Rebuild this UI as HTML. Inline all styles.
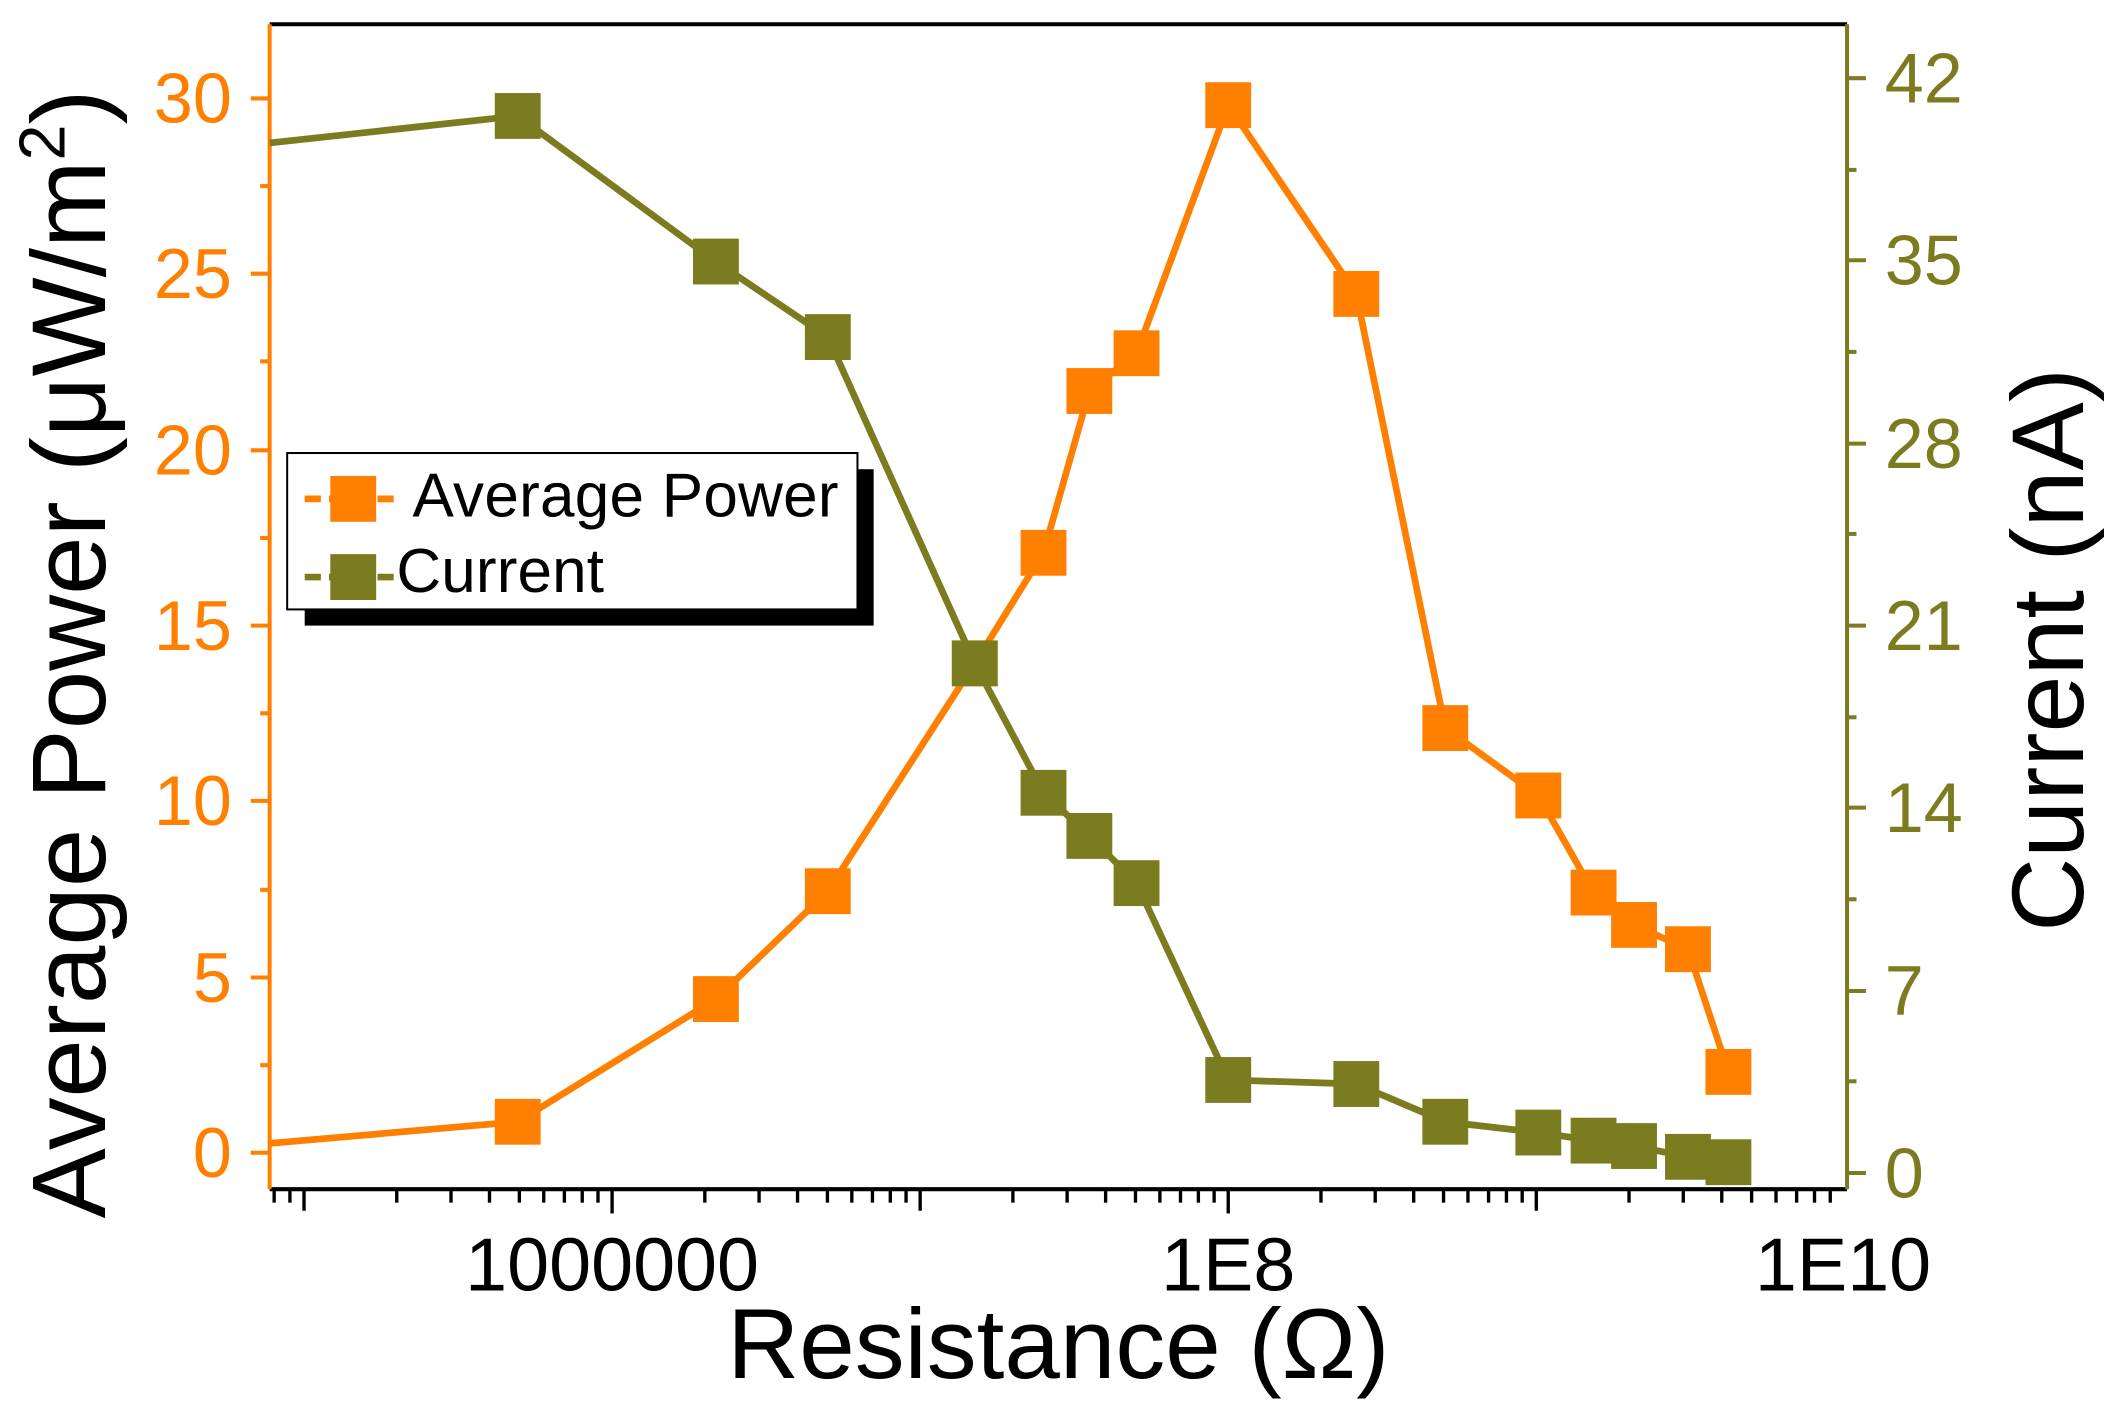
<!DOCTYPE html>
<html><head><meta charset="utf-8"><style>html,body{margin:0;padding:0;background:#fff}svg{display:block}</style></head>
<body>
<svg width="2114" height="1413" viewBox="0 0 1568 1048" preserveAspectRatio="none" xmlns="http://www.w3.org/2000/svg" font-family="Liberation Sans, sans-serif">
<rect width="1568" height="1048" fill="#fff"/>
<line x1="200" y1="18" x2="1370" y2="18" stroke="#000" stroke-width="3"/>
<line x1="200" y1="882" x2="1370" y2="882" stroke="#000" stroke-width="3"/>
<line x1="200" y1="18" x2="200" y2="882" stroke="#FF7F00" stroke-width="3"/>
<line x1="1370" y1="18" x2="1370" y2="882" stroke="#7B7B1F" stroke-width="3"/>
<g stroke="#000" stroke-width="2.5" id="xt"></g>
<g stroke="#FF7F00" stroke-width="3">
<line x1="186" y1="855" x2="200" y2="855"/><line x1="186" y1="725" x2="200" y2="725"/><line x1="186" y1="594" x2="200" y2="594"/><line x1="186" y1="464" x2="200" y2="464"/><line x1="186" y1="334" x2="200" y2="334"/><line x1="186" y1="203" x2="200" y2="203"/><line x1="186" y1="73" x2="200" y2="73"/>
<line x1="193" y1="790" x2="200" y2="790"/><line x1="193" y1="660" x2="200" y2="660"/><line x1="193" y1="529" x2="200" y2="529"/><line x1="193" y1="399" x2="200" y2="399"/><line x1="193" y1="268" x2="200" y2="268"/><line x1="193" y1="138" x2="200" y2="138"/>
</g>
<g fill="#FF7F00" font-size="52" text-anchor="end">
<text x="172" y="873">0</text><text x="172" y="743">5</text><text x="172" y="612">10</text><text x="172" y="482">15</text><text x="172" y="352">20</text><text x="172" y="221">25</text><text x="172" y="91">30</text>
</g>
<g stroke="#7B7B1F" stroke-width="3">
<line x1="1370" y1="870" x2="1384" y2="870"/><line x1="1370" y1="735" x2="1384" y2="735"/><line x1="1370" y1="599" x2="1384" y2="599"/><line x1="1370" y1="464" x2="1384" y2="464"/><line x1="1370" y1="329" x2="1384" y2="329"/><line x1="1370" y1="193" x2="1384" y2="193"/><line x1="1370" y1="58" x2="1384" y2="58"/>
<line x1="1370" y1="802" x2="1377" y2="802"/><line x1="1370" y1="667" x2="1377" y2="667"/><line x1="1370" y1="532" x2="1377" y2="532"/><line x1="1370" y1="396" x2="1377" y2="396"/><line x1="1370" y1="261" x2="1377" y2="261"/><line x1="1370" y1="126" x2="1377" y2="126"/>
</g>
<g fill="#7B7B1F" font-size="52">
<text x="1398" y="888">0</text><text x="1398" y="753">7</text><text x="1398" y="617">14</text><text x="1398" y="482">21</text><text x="1398" y="347">28</text><text x="1398" y="211">35</text><text x="1398" y="76">42</text>
</g>
<g font-size="56" text-anchor="middle" fill="#000">
<text x="454" y="957">1000000</text><text x="911" y="957">1E8</text><text x="1367" y="957">1E10</text>
</g>
<text x="785" y="1022" font-size="74" text-anchor="middle">Resistance (Ω)</text>
<text transform="translate(78,485) rotate(-90)" font-size="78" text-anchor="middle">Average Power (μW/m<tspan font-size="48" dy="-30">2</tspan><tspan dy="30">)</tspan></text>
<text transform="translate(1545,482) rotate(-90)" font-size="76" text-anchor="middle">Current (nA)</text>
<polyline fill="none" stroke="#FF7F00" stroke-width="5" points="200,848 384,832 531,741 614,661 723,492 774,410 808,290 843,262 911,78 1006,218 1072,540 1141,590 1182,662 1212,686 1252,704 1282,795"/>
<polyline fill="none" stroke="#7B7B1F" stroke-width="5" points="200,106 384,86 531,194 614,250 723,492 774,588 808,620 843,655 911,801 1006,804 1072,832 1141,840 1182,846 1212,850 1252,858 1282,862"/>
<g fill="#FF7F00" id="pm"></g>
<g fill="#7B7B1F" id="cm"></g>
<rect x="226" y="348" width="422" height="116" fill="#000"/>
<rect x="213" y="336" width="423" height="116" fill="#fff" stroke="#000" stroke-width="1.5"/>
<line x1="226" y1="370" x2="298" y2="370" stroke="#FF7F00" stroke-width="5" stroke-dasharray="12,6"/>
<rect x="245" y="353" width="34" height="34" fill="#FF7F00"/>
<text x="306" y="383" font-size="46" textLength="316">Average Power</text>
<line x1="226" y1="428" x2="298" y2="428" stroke="#7B7B1F" stroke-width="5" stroke-dasharray="12,6"/>
<rect x="245" y="411" width="34" height="34" fill="#7B7B1F"/>
<text x="294" y="439" font-size="46" textLength="154">Current</text>
<script>
var ns="http://www.w3.org/2000/svg";
var xt=document.getElementById('xt');
function ln(g,a,b,c,d){var l=document.createElementNS(ns,'line');l.setAttribute('x1',a);l.setAttribute('y1',b);l.setAttribute('x2',c);l.setAttribute('y2',d);g.appendChild(l);}
var d=228.5,x6=454;
for(var e=4;e<=9;e++){for(var m=1;m<10;m++){var x=x6+(e-6+Math.log10(m))*d;if(x<200||x>1370)continue;ln(xt,x,882,x,m==1?(e%2==0?900:898):892);}}
var P=[[384,832],[531,741],[614,661],[723,492],[774,410],[808,290],[843,262],[911,78],[1006,218],[1072,540],[1141,590],[1182,662],[1212,686],[1252,704],[1282,795]];
var C=[[384,86],[531,194],[614,250],[723,492],[774,588],[808,620],[843,655],[911,801],[1006,804],[1072,832],[1141,840],[1182,846],[1212,850],[1252,858],[1282,862]];
function mk(g,a){a.forEach(function(p){var r=document.createElementNS(ns,'rect');r.setAttribute('x',p[0]-17);r.setAttribute('y',p[1]-17);r.setAttribute('width',34);r.setAttribute('height',34);g.appendChild(r);});}
mk(document.getElementById('pm'),P);mk(document.getElementById('cm'),C);
</script>
</svg>
</body></html>
